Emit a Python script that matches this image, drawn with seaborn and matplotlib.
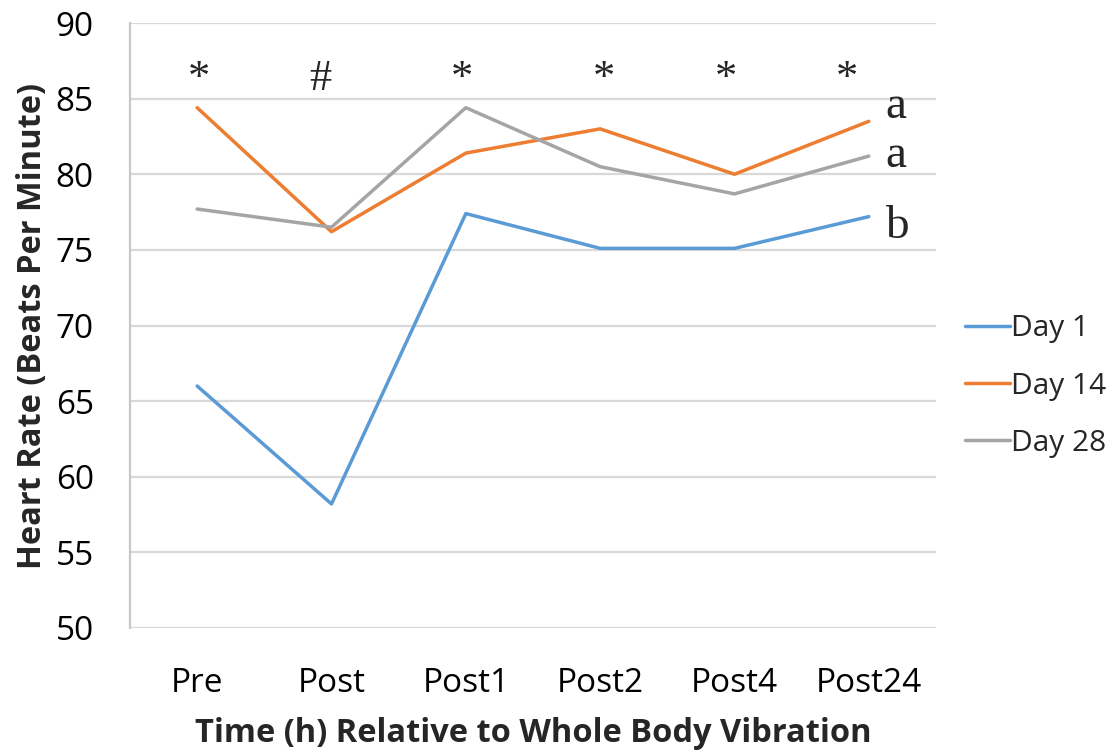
import matplotlib
matplotlib.use("Agg")
import matplotlib.pyplot as plt
import seaborn as sns
import pandas as pd

# values
times = ["Pre", "Post", "Post1", "Post2", "Post4", "Post24"]
day1 = [66.0, 58.2, 77.4, 75.1, 75.1, 77.2]
day14 = [84.4, 76.2, 81.4, 83.0, 80.0, 83.5]
day28 = [77.7, 76.5, 84.4, 80.5, 78.7, 81.2]
series_names = ["Day 1", "Day 14", "Day 28"]
colors = ["#5B9BD5", "#ED7D31", "#A5A5A5"]

# significance marks above each time point, group letters at the right end
marks = ["*", "#", "*", "*", "*", "*"]
letters = ["a", "a", "b"]

df = pd.DataFrame({
    "Time": times * 3,
    "Heart Rate": day1 + day14 + day28,
    "Group": [n for n in series_names for _ in times],
})

sns.set_style("white")
plt.rcParams["font.family"] = ["Open Sans", "DejaVu Sans"]

fig = plt.figure(figsize=(11.14, 7.53), dpi=100)
ax = fig.add_axes([130 / 1114, 1 - 628 / 753, (936 - 130) / 1114, (628 - 23) / 753])

sns.lineplot(data=df, x="Time", y="Heart Rate", hue="Group", palette=colors,
             linewidth=2.5, sort=False, ax=ax)

ax.set_ylim(50, 90)
ax.set_yticks(range(50, 91, 5))
ax.set_xlim(-0.5, len(times) - 0.5)
ax.yaxis.grid(True, color="#D9D9D9", linewidth=1.6)
ax.set_axisbelow(True)
for side in ["top", "right", "bottom"]:
    ax.spines[side].set_visible(False)
ax.spines["left"].set_color("#C8C8C8")
ax.spines["left"].set_linewidth(1.6)
ax.tick_params(axis="both", length=0, labelsize=24, colors="#000000")
ax.tick_params(axis="x", pad=28)
ax.tick_params(axis="y", pad=26)

ax.set_xlabel("Time (h) Relative to Whole Body Vibration", fontsize=23.5,
              fontweight="bold", labelpad=12)
ax.set_ylabel("Heart Rate (Beats Per Minute)", fontsize=23.5,
              fontweight="bold", labelpad=5)

# hand-placed annotations
mark_x = [0.01, 0.92, 1.97, 3.03, 3.94, 4.84]
for x, m in zip(mark_x, marks):
    ax.text(x, 87.6, m, ha="center", va="top", fontsize=32,
            family="Liberation Serif")
letter_y = [83.7, 80.5, 75.8]
for y, t in zip(letter_y, letters):
    ax.text(5.12, y, t, ha="left", va="baseline", fontsize=34,
            family="Liberation Serif")

leg = ax.legend(loc="center left", bbox_to_anchor=(1.021, 0.40), frameon=False,
                fontsize=21.5, handlelength=1.5, handletextpad=0.05,
                labelspacing=0.95, borderaxespad=0)
for line in leg.get_lines():
    line.set_linewidth(2.5)

fig.savefig("out.png", dpi=100)
